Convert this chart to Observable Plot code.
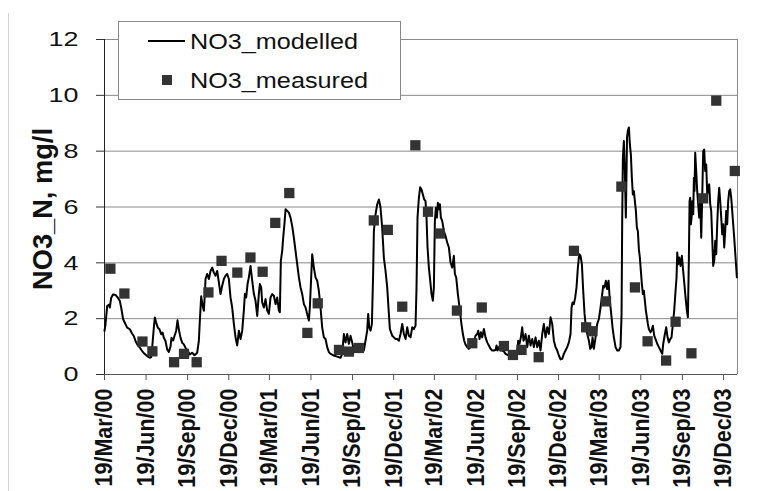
<!DOCTYPE html>
<html>
<head>
<meta charset="utf-8">
<script src="https://cdn.jsdelivr.net/npm/d3@7"></script>
<script src="https://cdn.jsdelivr.net/npm/@observablehq/plot@0.6"></script>
<style>
  html, body { margin: 0; padding: 0; background: white; }
  #chart { width: 765px; height: 491px; position: relative; }
</style>
</head>
<body>
<div id="chart"></div>
<script>
// ---- Data (days counted from 19 Mar 2000) ----
const seriesStart = "2000-03-19";
const axisEnd = "2004-01-19";
const xTickDates = ["2000-03-19","2000-06-19","2000-09-19","2000-12-19",
  "2001-03-19","2001-06-19","2001-09-19","2001-12-19",
  "2002-03-19","2002-06-19","2002-09-19","2002-12-19",
  "2003-03-19","2003-06-19","2003-09-19","2003-12-19"];
const yTicks = [0, 2, 4, 6, 8, 10, 12];
const seriesNames = ["NO3_modelled", "NO3_measured"];
const yTitle = "NO3_N, mg/l";

const modelDay = [0,2.2,5.9,9.6,11.8,14.8,19.2,24.3,29.5,34,36.9,41.3,46.5,50.2,56.1,61.2,64.9,68.6,72.3,78.2,83.4,88.5,94.4,100.3,103.3,105.5,109.2,111.4,114.4,118,121.7,125.4,128.4,131.3,135,138.7,142.4,146.1,148.3,152,154.9,158.6,161.6,164.5,168.2,171.9,175.6,179.3,184.4,188.9,194,199.2,205.1,208.8,211,214,216.9,219.9,222.1,
223.6,227.3,231,234.7,238.4,242,245.7,249.4,253.1,256.8,260.5,264.2,267.9,271.6,275.2,278.9,282.6,286.3,290,293.7,297.4,301.1,304.8,308.4,310.7,313.6,316.6,319.5,323.2,326.9,330.6,334.3,338,341.6,343.9,346.8,349,352.7,356.4,360.1,363.8,367.5,371.2,374.9,378.5,382.2,385.9,388.1,390.3,393.3,395.5,398.5,400.7,404.4,408.1,411.7,415.4,419.1,422.8,426.5,430.2,433.9,437.6,441.3,445,448.6,452.3,454.5,
459.7,463.4,467.1,470.8,474.4,478.1,481.8,485.5,489.2,492.9,496.6,500.3,504,507.6,515,522.4,526.1,529.8,533.5,537.2,540.8,544.5,548.2,551.9,559.3,566.7,574,577.7,581.4,583.6,585.9,588.8,591.8,594.7,596.2,599.9,603.6,607.3,610.9,614.6,618.3,622,625.7,629.4,631.6,636.8,640.5,644.1,647.8,651.5,655.2,658.9,662.6,666.3,670,673.7,677.4,681,684.7,
688.4,690.6,692.8,695.8,698.7,701.7,704.6,707.6,710.5,712.7,715,717.9,720.9,723.8,726.8,729,731.2,733.4,735.6,737.8,740,742.3,744.5,747.4,751.1,754.8,758.5,762.2,765.9,769.6,773.2,775.5,778.4,782.1,785.8,789.5,793.2,796.1,799.1,802.8,806.4,810.1,813.8,817.5,821.2,824.9,827.1,830.1,833,836,839.7,843.3,847,850.7,854.4,858.1,861.8,865.5,867.7,869.9,872.9,876.5,880.2,883.9,887.6,895,902.4,909.7,913.4,915.6,918.6,921.5,924.5,927.4,930.4,
931.9,935.6,939.2,942.9,946.6,950.3,954,957.7,961.4,965.1,968.8,972.4,976.1,979.8,983.5,987.2,990.9,994.6,998.3,1002,1005.6,1009.3,1013,1016.7,1020.4,1024.1,1027.8,1031.5,1033.7,1035.9,1038.8,1041.8,1044.7,1047.7,1050.7,1053.6,1056.6,1059.5,1062.5,1065.4,1068.4,1072.1,1075,1078,1080.2,1083.1,1086.8,1090.5,1094.2,1097.9,1101.6,1103.8,1106.7,1109.7,1112.6,1115.6,1118.5,1121.5,1124.4,1127.4,1131.1,1134.8,1138.4,1142.1,1144.4,1145.8,1147.3,1149.5,1151.7,1153.9,1156.5,1158.5,1160.6,1162.8,
1165,1167.2,1169.4,1171.6,1173.9,1176.1,1178.3,1180.5,1182.7,1184.9,1187.1,1189.4,1191.6,1193.8,1196,1198.2,1200.4,1202.6,1204.8,1208.5,1210.7,1213.7,1216.7,1219.6,1223.3,1227,1230.7,1234.4,1236.6,1240.3,1243.2,1246.2,1249.1,1252.1,1255,1258,1260.9,1263.9,1266.1,1267.6,1269.8,1272,1275,1277.9,1280.1,1283.1,1286,1289,1291.2,1293.4,1294.9,1296.3,1297.8,1299.3,1300.8,1303,1304.5,1305.9,1307.4,1309.6,1311.8,1314,1316.3,1318.5,1320.7,1322.9,1325.1,1327.3,1329.5,1331.8,1334,1336.2,1338.4,1340.6,1342.8,1345,1347.2,1349.5,1351.7,1353.9,1356.1,1358.3,1360.5,1362.7,1365,1367.2,1369.4,1371.6,1373.8,1376,1378.2,1380.4,1382.7,1384.9,1387.1,1389.3,1391.5,1393.7,1396.7,1399.6];

const modelValue = [1.56,1.8,2.45,2.5,2.4,2.75,2.87,2.85,2.75,2.63,2.4,1.98,1.8,1.68,1.62,1.46,1.38,1.2,1.08,0.96,0.84,0.74,0.66,0.6,0.62,0.96,1.68,2.04,1.86,1.68,1.62,1.44,1.5,1.32,1.2,0.9,0.81,1.0,1.32,1.22,1.38,1.56,1.94,1.62,1.32,1.14,1.08,0.96,0.84,0.72,0.78,0.69,0.78,1.2,1.92,2.8,2.5,2.28,2.88,
3.42,3.6,3.42,3.71,3.83,3.65,3.54,3.71,3.3,2.88,3.18,3.42,3.54,3.6,3.42,2.76,2.4,1.81,1.33,1.04,1.57,1.27,1.57,2.29,2.88,2.76,3.24,3.48,3.89,3.36,2.88,2.64,2.1,2.88,3.24,3.12,2.58,2.4,2.7,2.29,2.17,2.76,2.88,2.82,2.52,2.76,2.29,2.23,4.07,4.43,4.9,5.44,5.92,5.86,5.8,5.62,5.32,4.9,4.43,3.95,3.48,3.12,2.88,2.52,2.4,2.17,1.93,2.4,
4.31,3.83,3.48,3.36,3.0,2.4,1.69,1.33,1.27,0.98,0.8,0.74,0.71,0.68,0.64,0.6,0.74,1.45,1.15,1.45,1.1,1.39,1.15,0.86,0.86,0.92,0.86,1.21,1.57,2.17,1.69,1.57,1.81,3.71,5.14,5.74,6.1,6.27,5.98,5.26,4.19,3.71,3.12,2.17,1.63,1.39,1.33,1.27,1.27,1.21,1.45,1.81,1.45,1.27,1.69,1.39,1.33,1.69,1.63,
1.75,3.12,5.62,6.33,6.71,6.63,6.45,6.27,6.21,5.62,4.55,3.83,3.36,2.88,2.64,3.12,5.5,5.98,5.62,6.15,5.92,6.1,5.62,5.5,5.14,4.96,4.73,4.55,4.01,3.83,4.25,3.6,3.48,2.88,2.4,1.87,1.45,1.21,1.07,0.98,0.92,0.98,1.1,1.21,1.39,1.45,1.57,1.27,1.51,1.33,1.63,1.33,1.15,1.04,0.92,0.86,0.86,0.88,1.04,0.86,0.98,0.86,0.86,0.83,0.74,0.68,0.67,0.74,0.8,1.21,1.1,1.33,1.69,1.21,1.33,
1.45,0.98,1.39,1.04,1.27,0.98,1.33,0.98,1.21,0.86,1.45,1.81,1.33,1.69,1.45,2.05,1.81,1.21,0.98,0.86,0.68,0.54,0.56,0.74,0.86,0.98,1.15,1.45,2.4,2.58,2.52,2.76,3.12,3.83,4.31,4.25,3.95,3.0,2.17,1.69,1.45,1.21,0.92,0.98,1.33,0.92,1.33,1.81,1.99,2.4,2.88,3.18,3.12,3.36,3.06,3.36,2.64,2.17,1.69,1.33,0.98,0.86,0.86,0.98,2.17,5.5,7.76,8.36,7.29,5.62,8.5,8.75,8.85,8.24,
7.88,7.05,6.45,6.57,6.21,5.86,5.26,5.14,4.49,4.19,3.71,3.24,2.88,3.0,2.64,2.29,2.05,1.81,1.63,1.51,1.57,1.75,1.39,1.27,1.1,0.98,0.86,0.74,1.1,1.45,1.69,1.33,1.15,1.27,1.33,1.81,2.29,3.0,3.48,4.37,3.95,4.19,3.89,4.25,3.83,3.3,2.76,2.29,2.05,4.19,6.21,6.33,5.38,5.62,6.21,5.74,7.05,6.57,7.94,7.29,6.57,6.1,5.62,6.21,4.9,6.33,8.0,8.06,7.29,7.52,6.45,6.69,6.81,6.1,5.86,4.9,3.89,4.07,4.79,4.31,5.38,6.21,6.69,6.21,5.62,5.02,5.38,4.55,5.14,5.86,5.38,6.21,6.57,6.63,6.33,5.86,5.38,4.9,4.19,3.48];

const measuredDay = [13,44,84,106,154,176,204,230,259,294,323,350,378,409,449,472,519,541,563,596,627,659,688,716,742,780,814,835,884,904,923,961,1039,1066,1080,1110,1144,1174,1202,1243,1264,1299,1325,1354,1395];
const measuredValue = [3.79,2.9,1.18,0.83,0.44,0.74,0.44,2.94,4.07,3.65,4.19,3.68,5.43,6.5,1.49,2.55,0.88,0.82,0.95,5.52,5.18,2.43,8.21,5.83,5.05,2.29,1.12,2.4,1.02,0.7,0.88,0.62,4.43,1.69,1.55,2.62,6.73,3.12,1.19,0.5,1.89,0.76,6.31,9.81,7.29];

// ---- Build tables ----
const DAY = 864e5;
const t0 = new Date(seriesStart + "T00:00:00Z").getTime();
const modelled = modelDay.map((d, i) => ({date: new Date(t0 + d * DAY), value: modelValue[i]}));
const measured = measuredDay.map((d, i) => ({date: new Date(t0 + d * DAY), value: measuredValue[i]}));
const xStart = new Date(seriesStart + "T00:00:00Z");
const xEnd = new Date(axisEnd + "T00:00:00Z");
const xTicks = xTickDates.map(s => new Date(s + "T00:00:00Z"));
const fmt = d3.utcFormat("%d/%b/%y");
const grid = yTicks.filter(v => v > 0);

const FONT = "'Liberation Sans', Arial, Helvetica, sans-serif";

const svg = Plot.plot({
  width: 765,
  height: 491,
  marginLeft: 104,
  marginRight: 28,
  marginTop: 39,
  marginBottom: 117,
  x: {type: "utc", domain: [xStart, xEnd]},
  y: {domain: [0, 12]},
  style: {fontFamily: FONT, background: "white", color: "#111", overflow: "visible"},
  marks: [
    Plot.ruleY(grid, {stroke: "#8a8a8a", strokeWidth: 1}),
    Plot.ruleX([xEnd], {stroke: "#8a8a8a", strokeWidth: 1}),
    Plot.ruleY([0], {stroke: "#555", strokeWidth: 1}),
    Plot.ruleX([xStart], {stroke: "#222", strokeWidth: 1}),
    Plot.line(modelled, {x: "date", y: "value", stroke: "black", strokeWidth: 2}),
    Plot.dot(measured, {x: "date", y: "value", symbol: "square", r: 5.8, fill: "#333", stroke: "none"}),
    Plot.axisY({ticks: yTicks, tickSize: 8, tickPadding: 18, fontSize: 21, label: null, stroke: "#333", fill: "#111"}),
    Plot.axisX({ticks: xTicks, tickFormat: fmt, tickSize: 6, tickPadding: 8, tickRotate: -90,
      fontSize: 21.5, fontWeight: "bold", label: null, stroke: "#555", fill: "#111"})
  ]
});
document.getElementById("chart").append(svg);

// horizontal widening of lettering as in the reference
svg.querySelectorAll('g[aria-label="y-axis tick label"] text').forEach(t => {
  const L = t.getComputedTextLength();
  t.setAttribute("textLength", (L * 1.28).toFixed(1));
  t.setAttribute("lengthAdjust", "spacingAndGlyphs");
});
svg.querySelectorAll('g[aria-label="x-axis tick label"] text').forEach(t => {
  const tr = t.getAttribute("transform");
  if (tr && tr.includes("rotate(")) t.setAttribute("transform", tr.replace("rotate(", "scale(1.14,1) rotate("));
});

// decorations: outer border line, y title, legend
const NS = "http://www.w3.org/2000/svg";
function el(name, attrs, text) {
  const e = document.createElementNS(NS, name);
  for (const k in attrs) e.setAttribute(k, attrs[k]);
  if (text != null) e.textContent = text;
  svg.appendChild(e);
  return e;
}
el("line", {x1: 8.5, x2: 8.5, y1: 13, y2: 491, stroke: "#d4d4d4", "stroke-width": 1});
el("text", {transform: "translate(52,209) scale(1.14,1) rotate(-90)", "text-anchor": "middle",
  "font-family": FONT, "font-size": 24, "font-weight": "bold", fill: "#111",
  textLength: 162, lengthAdjust: "spacingAndGlyphs"}, yTitle);
el("rect", {x: 118.5, y: 21.5, width: 282, height: 78, fill: "white", stroke: "#888", "stroke-width": 1});
el("line", {x1: 148, x2: 185, y1: 41, y2: 41, stroke: "black", "stroke-width": 2});
el("text", {x: 190, y: 49, "text-anchor": "start", "font-family": FONT, "font-size": 22, fill: "#111",
  textLength: 168, lengthAdjust: "spacingAndGlyphs"}, seriesNames[0]);
el("rect", {x: 162, y: 75, width: 10, height: 10, fill: "#333"});
el("text", {x: 190, y: 88, "text-anchor": "start", "font-family": FONT, "font-size": 22, fill: "#111",
  textLength: 178, lengthAdjust: "spacingAndGlyphs"}, seriesNames[1]);
</script>
</body>
</html>
